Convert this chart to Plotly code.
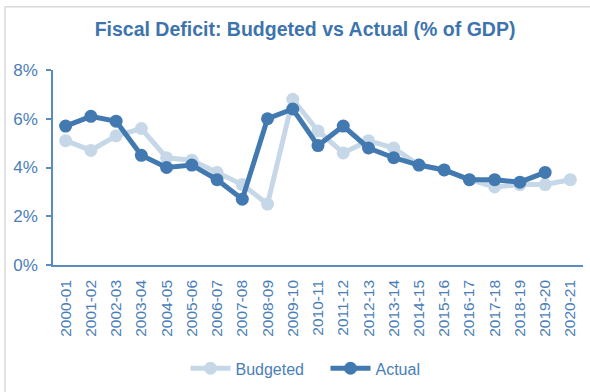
import plotly.graph_objects as go

years = ["2000-01", "2001-02", "2002-03", "2003-04", "2004-05", "2005-06",
         "2006-07", "2007-08", "2008-09", "2009-10", "2010-11", "2011-12",
         "2012-13", "2013-14", "2014-15", "2015-16", "2016-17", "2017-18",
         "2018-19", "2019-20", "2020-21"]

budgeted = [5.1, 4.7, 5.3, 5.6, 4.4, 4.3, 3.8, 3.3, 2.5, 6.8, 5.5, 4.6,
            5.1, 4.8, 4.1, 3.9, 3.5, 3.2, 3.3, 3.3, 3.5]

actual = [5.7, 6.1, 5.9, 4.5, 4.0, 4.1, 3.5, 2.7, 6.0, 6.4, 4.9, 5.7,
          4.8, 4.4, 4.1, 3.9, 3.5, 3.5, 3.4, 3.8, None]

y_ticks = [0, 2, 4, 6, 8]
y_tick_labels = ["0%", "2%", "4%", "6%", "8%"]

BUDGET_COLOR = "#c6d8e8"
ACTUAL_COLOR = "#4279b0"
TEXT_COLOR = "#4a7eb8"
AXIS_COLOR = "#5a8cc0"
FONT = "Liberation Sans, Arial, sans-serif"

fig = go.Figure()
fig.add_trace(go.Scatter(
    x=years, y=budgeted, name="Budgeted", mode="lines+markers",
    line=dict(color=BUDGET_COLOR, width=5),
    marker=dict(color=BUDGET_COLOR, size=13),
))
fig.add_trace(go.Scatter(
    x=years, y=actual, name="Actual", mode="lines+markers",
    line=dict(color=ACTUAL_COLOR, width=5),
    marker=dict(color=ACTUAL_COLOR, size=13),
))

fig.update_layout(
    width=590, height=392,
    margin=dict(l=53, r=7, t=70, b=122),
    paper_bgcolor="white", plot_bgcolor="white",
    font=dict(family=FONT, color=TEXT_COLOR, size=16),
    title=dict(
        text="<b>Fiscal Deficit: Budgeted vs Actual (% of GDP)</b>",
        font=dict(family=FONT, size=19.5, color="#3d74ad"),
        x=0.517, xref="container", xanchor="center",
        y=0.926, yref="container", yanchor="middle",
    ),
    xaxis=dict(
        type="category", tickangle=-90, showgrid=False,
        showline=True, linecolor=AXIS_COLOR, linewidth=1.5,
        ticks="", tickfont=dict(size=15.5, color=TEXT_COLOR),
        ticklabelstandoff=7,
        range=[-0.5, len(years) - 0.5],
    ),
    yaxis=dict(
        range=[0, 8], tickvals=y_ticks, ticktext=y_tick_labels,
        showgrid=False, zeroline=False,
        showline=True, linecolor=AXIS_COLOR, linewidth=1.5,
        ticks="outside", ticklen=5, tickcolor=AXIS_COLOR, tickwidth=1.5,
        tickfont=dict(size=17, color=TEXT_COLOR),
        ticklabelstandoff=5,
    ),
    legend=dict(
        orientation="h", x=0.25, xanchor="left", y=-0.53, yanchor="middle",
        font=dict(size=16, color=TEXT_COLOR), itemwidth=40,
        entrywidth=85, entrywidthmode="pixels",
        bgcolor="rgba(0,0,0,0)",
    ),
    showlegend=True,
)

# light card edges along the left and top of the chart
fig.add_shape(
    type="line", xref="paper", yref="paper",
    x0=-0.0906, x1=-0.0906, y0=-0.7, y1=1.325,
    line=dict(color="#d9d9d9", width=1.5), layer="below",
)
fig.add_shape(
    type="line", xref="paper", yref="paper",
    x0=-0.0906, x1=1.1, y0=1.325, y1=1.325,
    line=dict(color="#d9d9d9", width=1.5), layer="below",
)

fig.write_html("out.html")
